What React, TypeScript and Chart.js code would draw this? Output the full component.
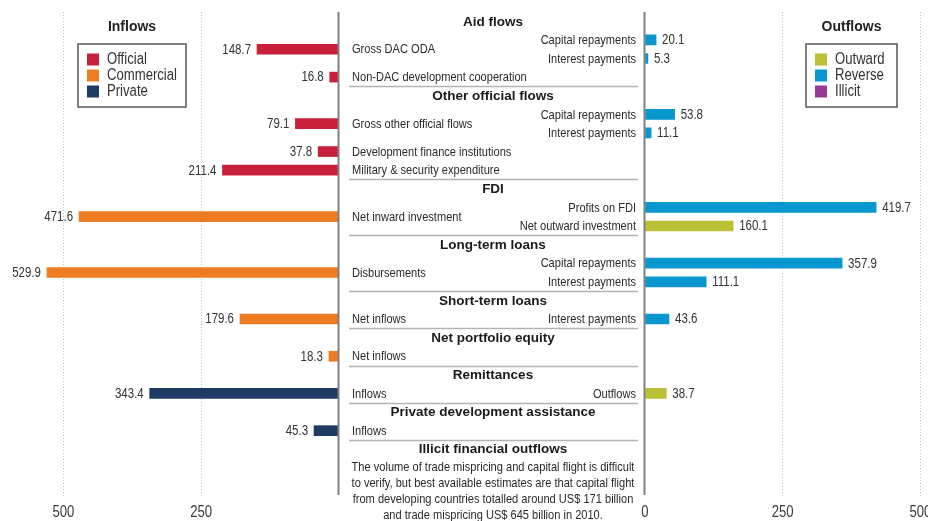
import React, { useEffect, useRef } from 'react';
import { Chart, registerables } from 'chart.js';

Chart.register(...registerables);

// ---------------- DATA ----------------
const sectionTitles = [
  'Aid flows',
  'Other official flows',
  'FDI',
  'Long-term loans',
  'Short-term loans',
  'Net portfolio equity',
  'Remittances',
  'Private development assistance',
  'Illicit financial outflows',
];

const inflowLabels = [
  'Gross DAC ODA',
  'Non-DAC development cooperation',
  'Gross other official flows',
  'Development finance institutions',
  'Military & security expenditure',
  'Net inward investment',
  'Disbursements',
  'Net inflows',
  'Net inflows',
  'Inflows',
  'Inflows',
];
const inflowValues = [148.7, 16.8, 79.1, 37.8, 211.4, 471.6, 529.9, 179.6, 18.3, 343.4, 45.3];
const inflowTypes = [
  'Official', 'Official', 'Official', 'Official', 'Official',
  'Commercial', 'Commercial', 'Commercial', 'Commercial',
  'Private', 'Private',
];
const inflowSections = [0, 0, 1, 1, 1, 2, 3, 4, 5, 6, 7];

const outflowLabels = [
  'Capital repayments',
  'Interest payments',
  'Capital repayments',
  'Interest payments',
  'Profits on FDI',
  'Net outward investment',
  'Capital repayments',
  'Interest payments',
  'Interest payments',
  'Outflows',
];
const outflowValues = [20.1, 5.3, 53.8, 11.1, 419.7, 160.1, 357.9, 111.1, 43.6, 38.7];
const outflowTypes = [
  'Reverse', 'Reverse', 'Reverse', 'Reverse', 'Reverse',
  'Outward', 'Reverse', 'Reverse', 'Reverse', 'Outward',
];
const outflowSections = [0, 0, 1, 1, 2, 2, 3, 3, 4, 6];

const inflowSeries = ['Official', 'Commercial', 'Private'];
const outflowSeries = ['Outward', 'Reverse', 'Illicit'];

const illicitNote = [
  'The volume of trade mispricing and capital flight is difficult',
  'to verify, but best available estimates are that capital flight',
  'from developing countries totalled around US$ 171 billion',
  'and trade mispricing US$ 645 billion in 2010.',
];

const leftTickValues = [250, 500];
const rightTickValues = [0, 250, 500];

// ---------------- STYLE ----------------
const seriesColors: Record<string, string> = {
  Official: '#c8203a',
  Commercial: '#ee7c22',
  Private: '#1f3a63',
  Outward: '#bcc034',
  Reverse: '#0897cf',
  Illicit: '#953b94',
};

const SANS = "'Liberation Sans', Arial, sans-serif";
const NARROW_X = 0.82; // horizontal condensing of the regular text
const TEXT = '#2a2a2a';
const GRID = '#98cde7';
const AXIS = '#808080';
const RIGHT_CANVAS_LEFT = 625;

// condensed text (real text, horizontally scaled)
function narrowText(
  ctx: CanvasRenderingContext2D,
  text: string,
  x: number,
  y: number,
  align: CanvasTextAlign,
  size: number,
  color: string,
) {
  ctx.save();
  ctx.font = `${size}px ${SANS}`;
  ctx.fillStyle = color;
  ctx.textBaseline = 'middle';
  ctx.textAlign = align;
  ctx.translate(x, y);
  ctx.scale(NARROW_X, 1);
  ctx.fillText(text, 0, 0);
  ctx.restore();
}

// ---------------- ROW LAYOUT (from structure) ----------------
function computeRows() {
  const inRow: number[] = new Array(inflowLabels.length).fill(0);
  const outRow: number[] = new Array(outflowLabels.length).fill(0);
  const headerRow: number[] = [];
  const sepRow: number[] = [];
  let cur = 0;
  sectionTitles.forEach((_, s) => {
    headerRow.push(cur);
    const ins = inflowSections.map((sec, i) => (sec === s ? i : -1)).filter((i) => i >= 0);
    const outs = outflowSections.map((sec, i) => (sec === s ? i : -1)).filter((i) => i >= 0);
    ins.forEach((i, j) => {
      if (j === 0 && outs.length === 2) {
        outRow[outs[0]] = cur + 2;
        inRow[i] = cur + 3;
        outRow[outs[1]] = cur + 4;
        cur += 4;
      } else if (j === 0 && outs.length === 1) {
        inRow[i] = cur + 2;
        outRow[outs[0]] = cur + 2;
        cur += 2;
      } else {
        inRow[i] = cur + 2;
        cur += 2;
      }
    });
    if (s < sectionTitles.length - 1) {
      sepRow.push(cur + 1);
      cur += 2;
    }
  });
  return { inRow, outRow, headerRow, sepRow };
}

function drawLegend(ctx: CanvasRenderingContext2D, chart: any, title: string, titleX: number, box: { x: number; y: number; w: number; h: number }) {
  ctx.save();
  ctx.fillStyle = '#222';
  ctx.font = `bold 14px ${SANS}`;
  ctx.textAlign = 'center';
  ctx.textBaseline = 'middle';
  ctx.fillText(title, titleX, 27);
  ctx.strokeStyle = '#555';
  ctx.lineWidth = 1.5;
  ctx.strokeRect(box.x, box.y, box.w, box.h);
  ctx.restore();
  chart.data.datasets.forEach((ds: any, i: number) => {
    const cy = box.y + 15.5 + i * 16;
    ctx.save();
    ctx.fillStyle = ds.backgroundColor;
    ctx.fillRect(box.x + 9, cy - 6, 12, 12);
    ctx.restore();
    narrowText(ctx, ds.label, box.x + 29, cy + 0.5, 'left', 16, '#333');
  });
}

function drawValueLabels(ctx: CanvasRenderingContext2D, chart: any, side: 'left' | 'right') {
  chart.data.datasets.forEach((ds: any, di: number) => {
    const meta = chart.getDatasetMeta(di);
    meta.data.forEach((el: any, i: number) => {
      const v = ds.data[i].x;
      const x = side === 'left' ? el.x - 6 : el.x + 6;
      narrowText(ctx, v.toFixed(1), x, el.y + 0.5, side === 'left' ? 'right' : 'left', 14, '#333');
    });
  });
}

function drawTicks(ctx: CanvasRenderingContext2D, chart: any, values: number[]) {
  const xs = chart.scales.x;
  const y = chart.chartArea.bottom + 16;
  values.forEach((v) => {
    narrowText(ctx, String(v), xs.getPixelForValue(v), y, 'center', 16, '#3a3a3a');
  });
}

export default function App() {
  const leftRef = useRef<HTMLCanvasElement>(null);
  const rightRef = useRef<HTMLCanvasElement>(null);

  useEffect(() => {
    const rows = computeRows();

    const leftDatasets = inflowSeries.map((s) => ({
      label: s,
      data: inflowValues
        .map((v, i) => (inflowTypes[i] === s ? { x: v, y: rows.inRow[i] } : null))
        .filter((d) => d !== null),
      backgroundColor: seriesColors[s],
      borderWidth: 0,
      barThickness: 10,
      grouped: false,
    }));
    const rightDatasets = outflowSeries.map((s) => ({
      label: s,
      data: outflowValues
        .map((v, i) => (outflowTypes[i] === s ? { x: v, y: rows.outRow[i] } : null))
        .filter((d) => d !== null),
      backgroundColor: seriesColors[s],
      borderWidth: 0,
      barThickness: 10,
      grouped: false,
    }));

    const yScale = { type: 'linear', reverse: true, min: -1, max: 51.13, offset: false, display: false };
    const gridColor = (c: any) => (c.tick && c.tick.value === 0 ? 'rgba(0,0,0,0)' : GRID);

    const leftPlugin = {
      id: 'leftDecor',
      afterDraw(chart: any) {
        const { ctx, chartArea } = chart;
        const y = chart.scales.y;
        const ax = chartArea.right;
        ctx.save();
        ctx.strokeStyle = AXIS;
        ctx.lineWidth = 2;
        ctx.beginPath();
        ctx.moveTo(ax - 0.5, chartArea.top);
        ctx.lineTo(ax - 0.5, chartArea.bottom - 2);
        ctx.stroke();
        ctx.restore();

        drawValueLabels(ctx, chart, 'left');
        drawTicks(ctx, chart, leftTickValues);

        // separators
        ctx.save();
        ctx.strokeStyle = '#b4b4b4';
        ctx.lineWidth = 1.5;
        rows.sepRow.forEach((r) => {
          const py = Math.round(y.getPixelForValue(r)) + 0.5;
          ctx.beginPath();
          ctx.moveTo(ax + 10, py);
          ctx.lineTo(ax + 299, py);
          ctx.stroke();
        });
        // headers
        ctx.fillStyle = '#1a1a1a';
        ctx.font = `bold 13.5px ${SANS}`;
        ctx.textAlign = 'center';
        ctx.textBaseline = 'middle';
        sectionTitles.forEach((t, s) => {
          ctx.fillText(t, ax + 154, y.getPixelForValue(rows.headerRow[s]) + 0.5);
        });
        ctx.restore();
        // labels
        inflowLabels.forEach((l, i) => {
          narrowText(ctx, l, ax + 13, y.getPixelForValue(rows.inRow[i]) + 0.5, 'left', 13.5, TEXT);
        });
        outflowLabels.forEach((l, i) => {
          narrowText(ctx, l, ax + 297, y.getPixelForValue(rows.outRow[i]) + 0.5, 'right', 13.5, TEXT);
        });
        const ny = y.getPixelForValue(rows.headerRow[sectionTitles.length - 1]) + 18;
        illicitNote.forEach((line, i) => {
          narrowText(ctx, line, ax + 154, ny + i * 16, 'center', 13.5, TEXT);
        });

        drawLegend(ctx, chart, 'Inflows', 132, { x: 78, y: 44, w: 108, h: 63 });
      },
    };

    const rightPlugin = {
      id: 'rightDecor',
      afterDraw(chart: any) {
        const { ctx, chartArea } = chart;
        ctx.save();
        ctx.strokeStyle = AXIS;
        ctx.lineWidth = 2;
        ctx.beginPath();
        ctx.moveTo(chartArea.left - 0.5, chartArea.top);
        ctx.lineTo(chartArea.left - 0.5, chartArea.bottom - 2);
        ctx.stroke();
        ctx.restore();
        drawValueLabels(ctx, chart, 'right');
        drawTicks(ctx, chart, rightTickValues);
        drawLegend(ctx, chart, 'Outflows', 851.5 - RIGHT_CANVAS_LEFT, { x: 806 - RIGHT_CANVAS_LEFT, y: 44, w: 91, h: 63 });
      },
    };

    const xCommon = {
      type: 'linear',
      ticks: { display: false },
      grid: { drawTicks: false, color: gridColor, lineWidth: 1 },
      border: { display: false, dash: [1, 2] },
    };

    const left = new Chart(leftRef.current as HTMLCanvasElement, {
      type: 'bar',
      data: { datasets: leftDatasets as any },
      options: {
        responsive: false,
        animation: false,
        indexAxis: 'y',
        layout: { padding: { left: 0, right: 306, top: 12, bottom: 25 } },
        plugins: { legend: { display: false }, tooltip: { enabled: false } },
        scales: {
          x: {
            ...xCommon,
            reverse: true,
            min: 0,
            max: 615,
            afterBuildTicks: (s: any) => {
              s.ticks = leftTickValues.map((v) => ({ value: v }));
            },
          },
          y: yScale,
        },
      } as any,
      plugins: [leftPlugin],
    });

    const right = new Chart(rightRef.current as HTMLCanvasElement, {
      type: 'bar',
      data: { datasets: rightDatasets as any },
      options: {
        responsive: false,
        animation: false,
        indexAxis: 'y',
        layout: { padding: { left: 20, right: 22.6, top: 12, bottom: 25 } },
        plugins: { legend: { display: false }, tooltip: { enabled: false } },
        scales: {
          x: {
            ...xCommon,
            min: 0,
            max: 540,
            afterBuildTicks: (s: any) => {
              s.ticks = rightTickValues.map((v) => ({ value: v }));
            },
          },
          y: yScale,
        },
      } as any,
      plugins: [rightPlugin],
    });

    return () => {
      left.destroy();
      right.destroy();
    };
  }, []);

  return (
    <div
      style={{
        position: 'absolute',
        left: 0,
        top: 0,
        width: 928,
        height: 521,
        overflow: 'hidden',
        background: '#ffffff',
      }}
    >
      <canvas
        ref={leftRef}
        width={645}
        height={522}
        style={{ position: 'absolute', left: 0, top: 0, width: 645, height: 522 }}
      />
      <canvas
        ref={rightRef}
        width={340}
        height={522}
        style={{ position: 'absolute', left: RIGHT_CANVAS_LEFT, top: 0, width: 340, height: 522 }}
      />
    </div>
  );
}
